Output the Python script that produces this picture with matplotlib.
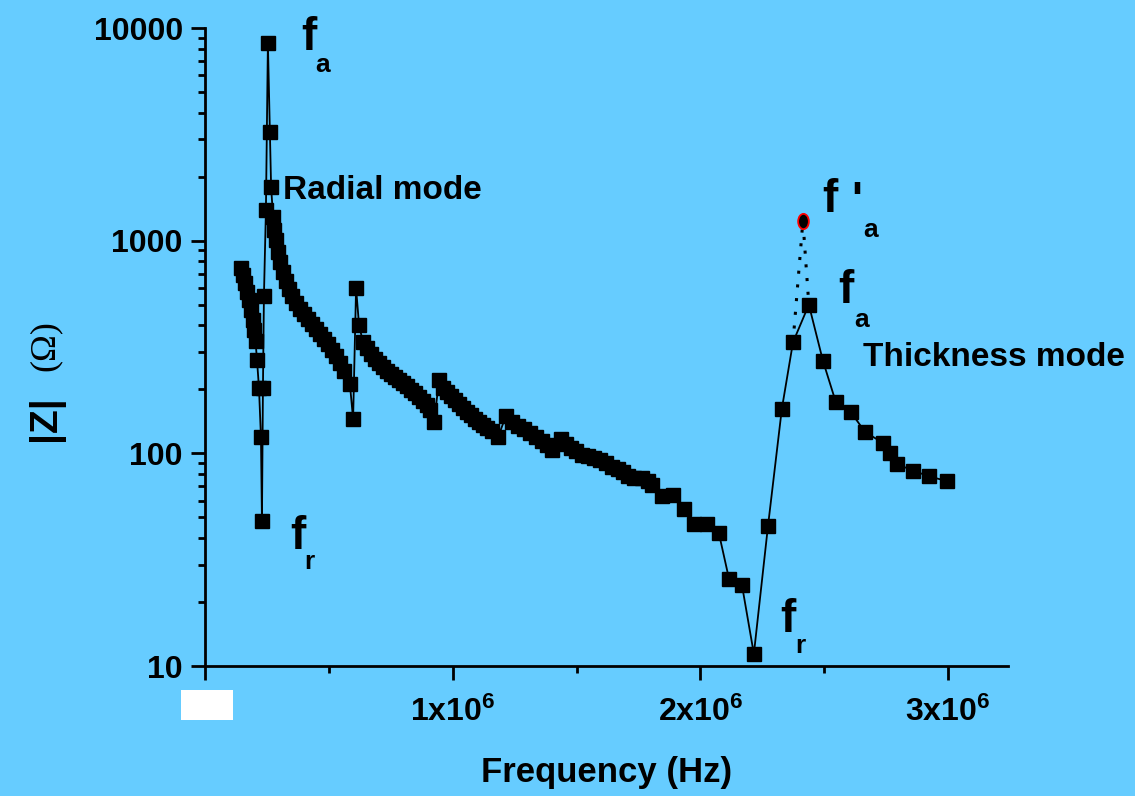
import matplotlib
matplotlib.use('Agg')
import matplotlib.pyplot as plt
from matplotlib.markers import MarkerStyle
from matplotlib.transforms import Affine2D
from matplotlib.patches import Rectangle
from matplotlib.ticker import FixedLocator, MultipleLocator, LogLocator, NullFormatter, FuncFormatter

plt.rcParams['font.family'] = ['Liberation Sans', 'DejaVu Sans']
plt.rcParams['mathtext.fontset'] = 'custom'
plt.rcParams['mathtext.rm'] = 'Liberation Sans'
plt.rcParams['mathtext.bf'] = 'Liberation Sans:bold'
plt.rcParams['mathtext.default'] = 'bf'

#############################################
# measured |Z| vs frequency (frequency in kHz, impedance in ohm)
freq_khz = [145, 153, 162, 170, 178, 186, 194, 198, 204, 210,
            218, 226, 230, 234, 238, 246, 254, 262, 267, 275,
            279, 287, 295, 303, 315, 327, 339, 351, 367, 384,
            400, 416, 432, 448, 464, 480, 497, 513, 529, 545,
            561, 585, 598, 610, 622,
            638, 654, 670, 686, 703, 719, 735, 751, 767, 783,
            799, 816, 832, 848, 864, 880, 896, 908, 925, 945,
            961, 977, 993, 1009, 1025, 1042, 1058, 1074, 1090, 1106,
            1122, 1139, 1159, 1183, 1215,
            1239, 1264, 1288, 1312, 1336, 1361, 1381, 1401, 1437, 1457,
            1478, 1498, 1522, 1546, 1570, 1595, 1619, 1643, 1667, 1688,
            1708, 1732, 1764, 1789, 1805, 1845, 1889, 1934, 1974, 2027,
            2075, 2116, 2168, 2216, 2273, 2329, 2374, 2438, 2495, 2547,
            2608, 2665, 2737, 2765, 2794, 2858, 2923, 2996]
z_ohm = [743, 689, 632, 573, 526, 472, 424, 380, 337, 275,
         203, 119, 48, 203, 550, 1393, 8490, 3245, 1786, 1290,
         1122, 1007, 884, 792, 711, 645, 592, 549, 509, 477,
         452, 428, 405, 384, 364, 345, 326, 306, 287, 266,
         244, 212, 145, 598, 401,
         333, 313, 293, 277, 266, 255, 244, 236, 228, 221,
         214, 207, 198, 192, 184, 176, 169, 160, 140, 221,
         203, 194, 186, 178, 171, 163, 156, 151, 145, 140,
         136, 131, 127, 119, 150,
         140, 134, 130, 125, 119, 114, 109, 104, 117, 111,
         106, 103, 98, 97, 95, 93, 90, 86, 84, 82,
         78, 76.5, 76.5, 74, 71, 63, 63.5, 55, 46.5, 46.5,
         42, 25.6, 24, 11.4, 45.5, 162, 333, 500, 272, 174,
         156, 126, 112, 100, 89, 83, 78, 74]

# extrapolated thickness-mode peak (f'a), joined with dotted line
dot_freq_khz = [2374, 2414, 2438]
dot_z_ohm = [333, 1237, 500]

#############################################
bg = '#66ccff'
fig = plt.figure(figsize=(11.35, 7.96), dpi=100, facecolor=bg)
ax = fig.add_axes([0.1806, 0.1633, 0.7075, 0.8015])
ax.set_facecolor(bg)

f_hz = [f * 1e3 for f in freq_khz]
ax.plot(f_hz, z_ohm, color='k', linewidth=1.3, marker='s', markersize=9.5,
        markerfacecolor='k', markeredgecolor='k', zorder=3)

d_hz = [f * 1e3 for f in dot_freq_khz]
ax.plot(d_hz, dot_z_ohm, color='k', linestyle=(0, (1, 3.5)), linewidth=2.2, zorder=2)
oval = MarkerStyle('o', transform=Affine2D().scale(0.7, 1.0))
ax.plot(d_hz[1], dot_z_ohm[1], linestyle='none', marker=oval, markersize=11,
        markerfacecolor='k', markeredgecolor='red', markeredgewidth=1.3, zorder=4)

ax.set_yscale('log')
ax.set_xlim(0, 3.242e6)
ax.set_ylim(10, 10000)

for s in ['top', 'right']:
    ax.spines[s].set_visible(False)
for s in ['left', 'bottom']:
    ax.spines[s].set_linewidth(2.0)

ax.xaxis.set_major_locator(FixedLocator([0, 1e6, 2e6, 3e6]))
ax.xaxis.set_minor_locator(MultipleLocator(0.5e6))


def xfmt(v, pos):
    if v == 0:
        return '0'
    return '%dx10$^{6}$' % round(v / 1e6)


ax.xaxis.set_major_formatter(FuncFormatter(xfmt))
ax.yaxis.set_major_locator(FixedLocator([10, 100, 1000, 10000]))
ax.yaxis.set_minor_locator(LogLocator(base=10, subs=range(2, 10)))
ax.yaxis.set_minor_formatter(NullFormatter())
ax.yaxis.set_major_formatter(FuncFormatter(lambda v, p: '%d' % v))

ax.tick_params(axis='both', which='major', direction='out', length=10, width=2.0,
               labelsize=23, colors='k')
ax.tick_params(axis='x', which='major', pad=12)
ax.tick_params(axis='y', which='major', pad=6)
ax.tick_params(axis='both', which='minor', direction='out', length=5, width=2.0)
for lab in ax.get_xticklabels() + ax.get_yticklabels():
    lab.set_fontweight('bold')

ax.set_xlabel('Frequency (Hz)', fontsize=25, fontweight='bold', labelpad=20)
fig.text(0.040, 0.475, '|Z|', rotation=90, fontsize=28, fontweight='bold',
         ha='center', va='center')
fig.text(0.040, 0.566, '(\u03a9)', rotation=90, fontsize=26, family='Liberation Serif',
         ha='center', va='center')

# annotations
kw = dict(fontweight='bold', ha='center', va='center', color='k')
ax.text(0.42e6, 9000, 'f', fontsize=33, **kw)
ax.text(0.476e6, 6700, 'a', fontsize=19, **kw)
ax.text(0.315e6, 1730, 'Radial mode', fontsize=24, fontweight='bold', ha='left', va='center')
ax.text(0.375e6, 40.5, 'f', fontsize=33, **kw)
ax.text(0.42e6, 31, 'r', fontsize=19, **kw)
ax.text(2.523e6, 1560, 'f', fontsize=33, **kw)
ax.text(2.632e6, 1520, "'", fontsize=33, **kw)
ax.text(2.689e6, 1120, 'a', fontsize=19, **kw)
ax.text(2.588e6, 580, 'f', fontsize=33, **kw)
ax.text(2.652e6, 425, 'a', fontsize=19, **kw)
ax.text(2.656e6, 281, 'Thickness mode', fontsize=24, fontweight='bold', ha='left', va='center')
ax.text(2.354e6, 16.5, 'f', fontsize=33, **kw)
ax.text(2.402e6, 12.4, 'r', fontsize=19, **kw)

# white box over the origin label
fig.patches.append(Rectangle((0.1595, 0.0955), 0.0458, 0.0377, transform=fig.transFigure,
                             facecolor='white', edgecolor='none', zorder=10))

fig.savefig('out.png', dpi=100, facecolor=bg)
